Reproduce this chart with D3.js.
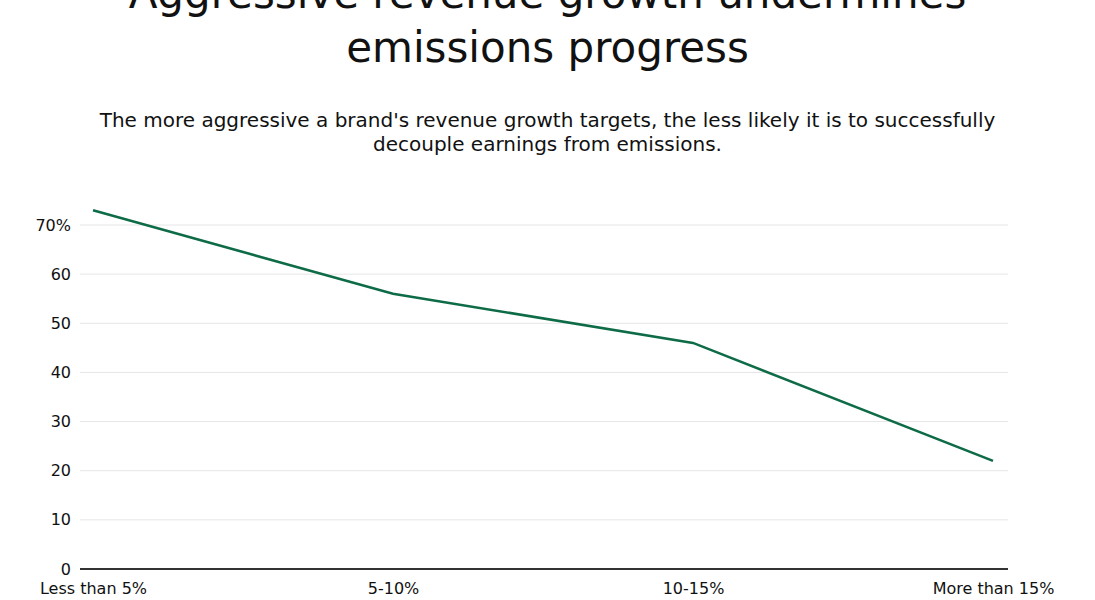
<!DOCTYPE html>
<html>
<head>
<meta charset="utf-8">
<script src="https://cdn.jsdelivr.net/npm/d3@7"></script>
<style>
  html, body { margin: 0; padding: 0; background: #fff; }
  svg { display: block; }
  text { font-family: "DejaVu Sans", "Noto Sans", sans-serif; fill: #111; }
</style>
</head>
<body>
<svg id="chart" width="1095" height="600"></svg>
<script>
const titleLines = ["Aggressive revenue growth undermines", "emissions progress"];
const subtitleLines = ["The more aggressive a brand's revenue growth targets, the less likely it is to successfully", "decouple earnings from emissions."];
const categories = ["Less than 5%", "5-10%", "10-15%", "More than 15%"];
const values = [73, 56, 46, 22];
const yTicks = [0, 10, 20, 30, 40, 50, 60, 70];

const svg = d3.select("#chart");
const W = 1095;

const plot = { left: 80, right: 1008, top: 225, bottom: 569 };

const x = d3.scalePoint().domain(categories).range([93, 993]);
const y = d3.scaleLinear().domain([0, 70]).range([plot.bottom, plot.top]);

// Title
svg.append("g").selectAll("text").data(titleLines).join("text")
  .attr("x", W / 2).attr("y", (d, i) => 8 + i * 54)
  .attr("text-anchor", "middle")
  .style("font-size", "42px")
  .text(d => d);

svg.append("g").selectAll("text").data(subtitleLines).join("text")
  .attr("x", W / 2).attr("y", (d, i) => 127 + i * 24)
  .attr("text-anchor", "middle")
  .style("font-size", "20px")
  .text(d => d);

// Gridlines
svg.append("g").selectAll("line").data(yTicks.filter(t => t > 0)).join("line")
  .attr("x1", plot.left).attr("x2", plot.right)
  .attr("y1", d => y(d)).attr("y2", d => y(d))
  .attr("stroke", "#e6e6e6").attr("stroke-width", 1);

// Zero line
svg.append("line")
  .attr("x1", plot.left).attr("x2", plot.right)
  .attr("y1", y(0)).attr("y2", y(0))
  .attr("stroke", "#333").attr("stroke-width", 2);

// Y axis labels
const yAxis = d3.axisLeft(y).tickValues(yTicks).tickSize(0).tickPadding(0)
  .tickFormat(d => d === 70 ? "70%" : d);
const gy = svg.append("g").attr("transform", `translate(71,0)`).call(yAxis);
gy.select(".domain").remove();
gy.selectAll("text").style("font-size", "16px").attr("fill", "#111").attr("font-family", "DejaVu Sans");

// X axis labels
const xAxis = d3.axisBottom(x).tickSize(0).tickPadding(14);
const gx = svg.append("g").attr("transform", `translate(0,${plot.bottom})`).call(xAxis);
gx.select(".domain").remove();
gx.selectAll("text").style("font-size", "16px").attr("fill", "#111").attr("font-family", "DejaVu Sans");

// Line
const line = d3.line().x((d, i) => x(categories[i])).y(d => y(d));
svg.append("path").datum(values)
  .attr("d", line)
  .attr("fill", "none")
  .attr("stroke", "#0e6b47")
  .attr("stroke-width", 2.5);
</script>
</body>
</html>
